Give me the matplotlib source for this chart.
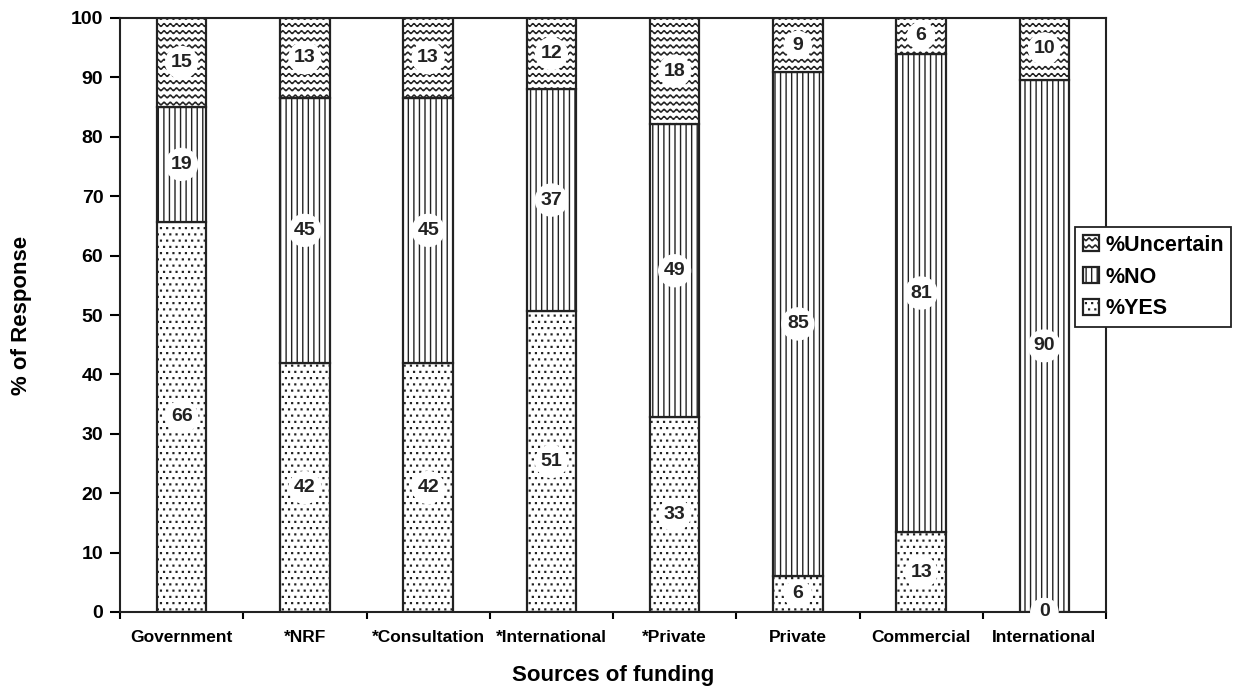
import warnings
import numpy as np
import matplotlib
matplotlib.use("Agg")
import matplotlib.pyplot as plt
import matplotlib.hatch as mhatch
from matplotlib.path import Path

warnings.filterwarnings("ignore")

# ── Data ──────────────────────────────────────────────────────────────────────
sources = ["Government", "*NRF", "*Consultation", "*International",
           "*Private", "Private", "Commercial", "International"]
pct_yes = [65.7, 41.9, 41.9, 50.7, 32.8, 6.1, 13.4, 0.0]
pct_no = [19.3, 44.7, 44.7, 37.3, 49.3, 84.8, 80.6, 89.6]
pct_unc = [15.0, 13.4, 13.4, 12.0, 17.9, 9.1, 6.0, 10.4]
y_ticks = [0, 10, 20, 30, 40, 50, 60, 70, 80, 90, 100]


# ── Custom hatches: "~" waves (uncertain), ":" fine dots (yes) ────────────────
class WaveHatch(mhatch.HatchPatternBase):
    n_rows = 14
    n_periods = 16
    n_per = 12

    def __init__(self, hatch, density):
        self.npts = self.n_periods * self.n_per + 1
        self.num_vertices = self.n_rows * self.npts if "~" in hatch else 0

    def set_vertices_and_codes(self, vertices, codes):
        x = np.linspace(0.0, 1.0, self.npts)
        wave = 0.2 / self.n_rows * np.sin(2 * np.pi * self.n_periods * x)
        for i in range(self.n_rows):
            sl = slice(i * self.npts, (i + 1) * self.npts)
            vertices[sl, 0] = x
            vertices[sl, 1] = (i + 0.5) / self.n_rows + wave
            codes[sl] = Path.LINETO
            codes[i * self.npts] = Path.MOVETO


class FineDotHatch(mhatch.HatchPatternBase):
    n = 16
    s = 0.004

    def __init__(self, hatch, density):
        self.num_vertices = self.n * self.n * 5 if ":" in hatch else 0

    def set_vertices_and_codes(self, vertices, codes):
        sq = np.array([[-1, -1], [1, -1], [1, 1], [-1, 1], [-1, -1]]) * self.s
        k = 0
        for r in range(self.n):
            for c in range(self.n):
                cx = (c + 0.25 + 0.5 * (r % 2)) / self.n
                cy = (r + 0.5) / self.n
                vertices[k:k + 5] = sq + [cx, cy]
                codes[k:k + 5] = [Path.MOVETO, Path.LINETO, Path.LINETO,
                                  Path.LINETO, Path.CLOSEPOLY]
                k += 5


mhatch._hatch_types.extend([WaveHatch, FineDotHatch])

plt.rcParams["font.family"] = ["Liberation Sans", "DejaVu Sans"]
plt.rcParams["font.weight"] = "bold"
plt.rcParams["hatch.linewidth"] = 1.0

fig = plt.figure(figsize=(12.4, 6.9), dpi=100)
ax = fig.add_axes([120 / 1240, 1 - 612 / 690, 986 / 1240, 594 / 690])

x = np.arange(len(sources))
yes = np.array(pct_yes)
no = np.array(pct_no)
unc = np.array(pct_unc)
w = 0.40

kw = dict(width=w, color="white", edgecolor="#222222", linewidth=1.6)
b_yes = ax.bar(x, yes, hatch=":", label="%YES", **kw)
b_no = ax.bar(x, no, bottom=yes, hatch="|||", label="%NO", **kw)
b_unc = ax.bar(x, unc, bottom=yes + no, hatch="~", label="%Uncertain", **kw)

# segment labels in white circles
circ = dict(boxstyle="circle,pad=0.3", fc="white", ec="none")
for vals, bottoms in [(yes, np.zeros_like(yes)), (no, yes), (unc, yes + no)]:
    for xi, v, b in zip(x, vals, bottoms):
        ax.text(xi, b + v / 2, f"{int(round(v))}", ha="center", va="center",
                fontsize=14, fontweight="bold", color="#222222", bbox=circ,
                zorder=5, clip_on=False)

ax.set_xlim(-0.5, len(sources) - 0.5)
ax.set_ylim(0, 100)
ax.set_yticks(y_ticks)
ax.set_xticks(x)
ax.set_xticklabels(sources, fontsize=12.5, fontweight="bold")
ax.set_xticks(np.arange(len(sources) + 1) - 0.5, minor=True)
ax.tick_params(axis="x", which="major", length=0, pad=13)
ax.tick_params(axis="x", which="minor", length=5, width=1.5, direction="out")
ax.tick_params(axis="y", length=7, width=1.5, direction="out", labelsize=14,
               pad=5)
for lab in ax.get_yticklabels():
    lab.set_fontweight("bold")
for sp in ax.spines.values():
    sp.set_linewidth(1.5)
    sp.set_color("#222222")

fig.text(22 / 1240, 1 - 315 / 690, "% of Response", rotation=90,
         ha="center", va="center", fontsize=16, fontweight="bold")
fig.text(613 / 1240, 1 - 675 / 690, "Sources of funding",
         ha="center", va="center", fontsize=16, fontweight="bold")

leg = fig.legend(handles=[b_unc, b_no, b_yes],
                 labels=["%Uncertain", "%NO", "%YES"],
                 loc="center left", bbox_to_anchor=(1075 / 1240, 1 - 277 / 690),
                 fancybox=False, edgecolor="#222222", framealpha=1,
                 handlelength=0.75, handleheight=0.75, handletextpad=0.3,
                 borderpad=0.35, borderaxespad=0, labelspacing=0.5,
                 prop=dict(size=15.5, weight="bold"))
leg.get_frame().set_linewidth(1.3)

fig.savefig("out.png", dpi=100)
